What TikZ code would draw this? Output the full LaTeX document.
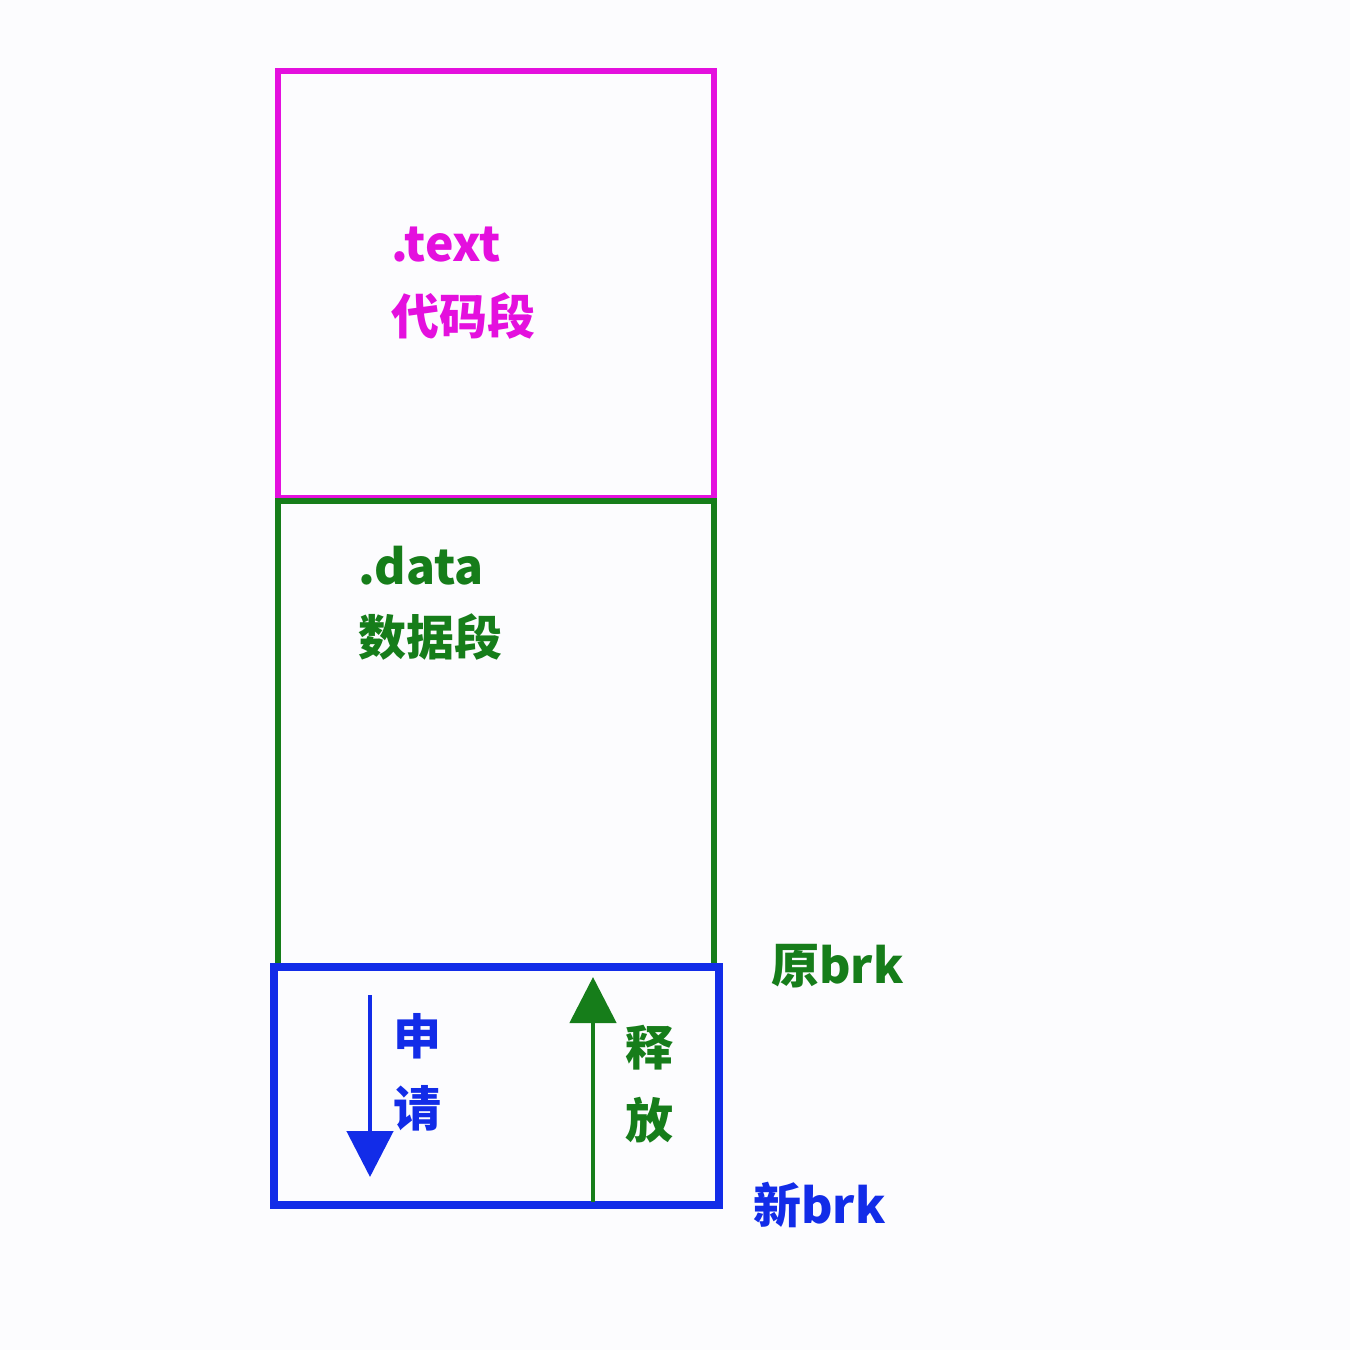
\documentclass[tikz,border=0pt]{standalone}
\usepackage{fontspec}
\setmainfont{Noto Sans CJK SC}
\usetikzlibrary{arrows.meta}
\definecolor{mag}{RGB}{228,16,222}
\definecolor{grn}{RGB}{22,125,26}
\definecolor{blu}{RGB}{18,44,232}
\definecolor{bg}{RGB}{252,252,254}
\tikzset{
  seg/.style={draw, rectangle, inner sep=0pt},
  lbl/.style={inner sep=0pt, anchor=west, font=\fontsize{24pt}{28pt}\selectfont\bfseries},
  arr/.style={line width=2.4pt, -{Triangle[length=23pt,width=23pt]}},
}
\begin{document}
\begin{tikzpicture}[x=0.5pt,y=-0.5pt]
\useasboundingbox[fill=bg] (0,0) rectangle (1350,1350);
% boxes
\node[seg, draw=mag, line width=3.4pt, minimum width=218pt, minimum height=213.5pt] (textbox) at (496,284.5) {};
\node[seg, draw=grn, line width=3.4pt, minimum width=218pt, minimum height=232.5pt] (databox) at (496,733.5) {};
\node[seg, draw=blu, line width=3.8pt, minimum width=222.5pt, minimum height=119pt] (heapbox) at (496.5,1086) {};
% labels
\node[lbl, text=mag] (t1) at (391,245) {.text};
\node[lbl, text=mag] (t2) at (391,316) {代码段};
\node[lbl, text=grn] (d1) at (358,566) {.data};
\node[lbl, text=grn] (d2) at (358,637) {数据段};
\node[lbl, text=grn] (ob) at (771,966) {原brk};
\node[lbl, text=blu] (nb) at (753,1205) {新brk};
\node[lbl, text=blu] (s1) at (393,1036) {申};
\node[lbl, text=blu] (s2) at (393,1108) {请};
\node[lbl, text=grn] (r1) at (625,1048) {释};
\node[lbl, text=grn] (r2) at (625,1120) {放};
% arrows
\coordinate (a1s) at (370,995);
\coordinate (a1e) at (370,1177);
\coordinate (a2s) at (593,1202);
\coordinate (a2e) at (593,977);
\draw[arr, draw=blu, fill=blu] (a1s) -- (a1e);
\draw[arr, draw=grn, fill=grn] (a2s) -- (a2e);
\end{tikzpicture}
\end{document}
